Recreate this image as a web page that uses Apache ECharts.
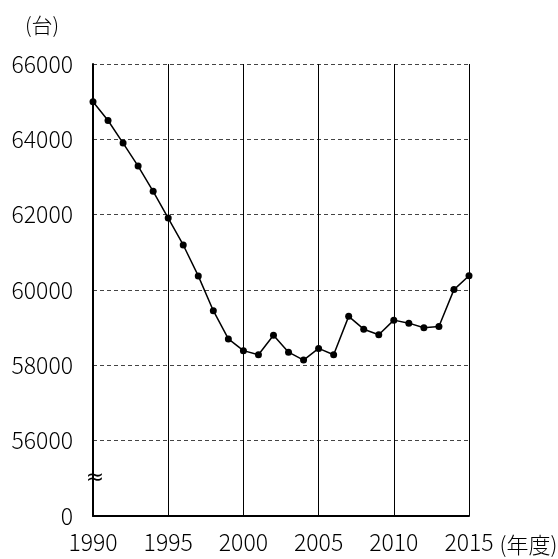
<!DOCTYPE html>
<html>
<head>
<meta charset="utf-8">
<script src="https://cdn.jsdelivr.net/npm/echarts@6/dist/echarts.min.js"></script>
<style>
  html, body { margin: 0; padding: 0; background: #fff; }
  #chart { width: 558px; height: 559px; }
</style>
</head>
<body>
<div id="chart"></div>
<script>
// 年度
const years = [1990, 1991, 1992, 1993, 1994, 1995, 1996, 1997, 1998, 1999,
  2000, 2001, 2002, 2003, 2004, 2005, 2006, 2007, 2008, 2009,
  2010, 2011, 2012, 2013, 2014, 2015]
// 台数
const counts = [65000, 64500, 63900, 63290, 62620, 61910, 61195, 60375, 59450, 58700,
  58390, 58280, 58800, 58350, 58140, 58450, 58280, 59300, 58960, 58810,
  59200, 59120, 59000, 59030, 60010, 60380]
const yTicks = [54000, 56000, 58000, 60000, 62000, 64000, 66000]
const breakValue = 55000

const font = '"Noto Sans CJK JP", "Noto Sans", sans-serif'

const chart = echarts.init(document.getElementById('chart'), null, { renderer: 'canvas' })
chart.setOption({
  animation: false,
  backgroundColor: '#fff',
  title: {
    text: '(台)',
    left: 20,
    top: 10,
    textStyle: { fontFamily: font, fontSize: 21, fontWeight: 300, color: '#000' }
  },
  grid: { left: 93, right: 89, top: 64, bottom: 43, outerBoundsMode: 'none', containLabel: false },
  xAxis: {
    type: 'value',
    min: years[0],
    max: years[years.length - 1],
    interval: 5,
    name: '(年度)',
    nameLocation: 'end',
    nameGap: 24,
    nameTextStyle: { fontFamily: font, fontSize: 22, fontWeight: 300, color: '#000', verticalAlign: 'top', padding: [18, 0, 0, 0] },
    axisLine: { lineStyle: { color: '#000', width: 2 } },
    axisTick: { show: false },
    axisLabel: { fontFamily: font, fontSize: 23, fontWeight: 300, color: '#000', margin: 15, formatter: v => String(v) },
    splitLine: { show: true, lineStyle: { color: '#000', width: 1, type: 'solid' } }
  },
  yAxis: {
    type: 'value',
    min: yTicks[0],
    max: yTicks[yTicks.length - 1],
    interval: 2000,
    axisLine: { show: true, lineStyle: { color: '#000', width: 2 } },
    axisTick: { show: false },
    axisLabel: {
      fontFamily: font, fontSize: 23, fontWeight: 300, color: '#000', margin: 20,
      formatter: v => (v === yTicks[0] ? '0' : String(v))
    },
    splitLine: { show: true, lineStyle: { color: '#444', width: 1, type: [4, 3] } }
  },
  series: [{
    type: 'line',
    data: years.map((y, i) => [y, counts[i]]),
    symbol: 'circle',
    symbolSize: 7,
    itemStyle: { color: '#000' },
    lineStyle: { color: '#000', width: 1.5 },
    markPoint: {
      symbol: 'circle',
      symbolSize: 0,
      silent: true,
      data: [{
        coord: [years[0], breakValue],
        label: { show: true, formatter: '≈', fontSize: 22, color: '#000', fontFamily: 'DejaVu Sans', offset: [2, 0] }
      }]
    }
  }]
})
</script>
</body>
</html>
